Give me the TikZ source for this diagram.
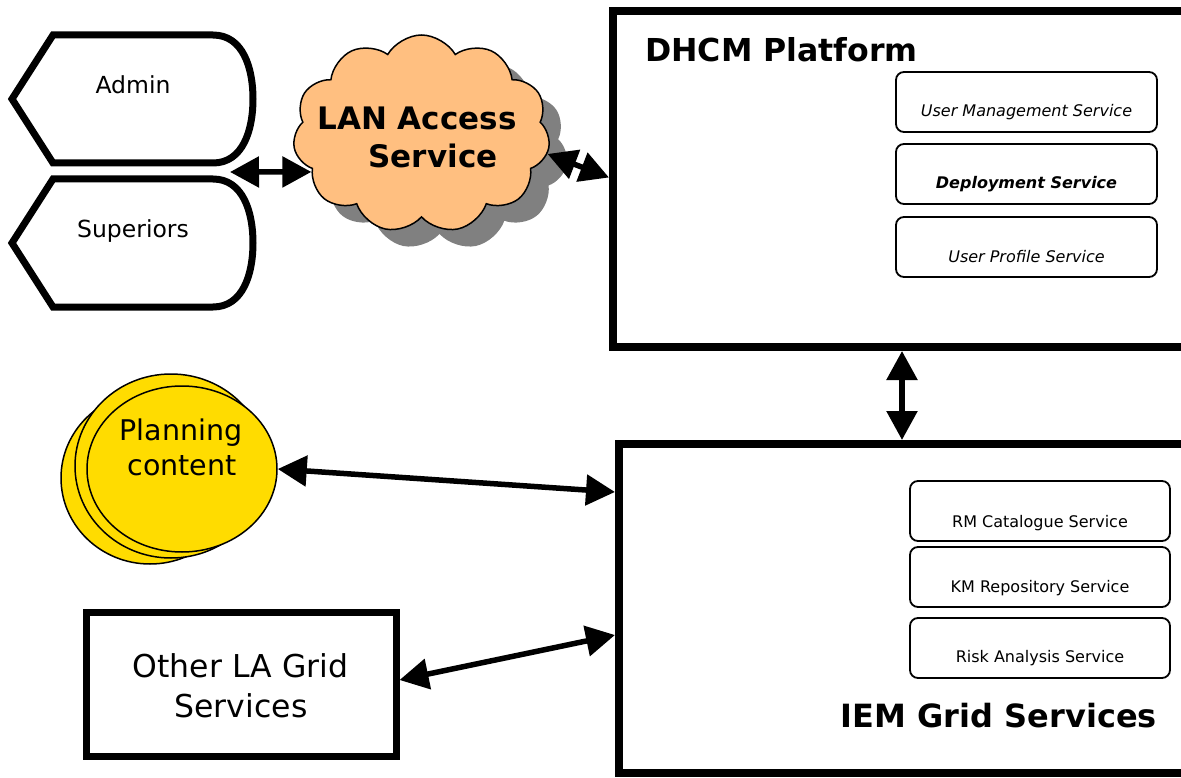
\documentclass[tikz,border=0pt]{standalone}
\usepackage{fontspec}
\setmainfont{DejaVu Sans}
\usetikzlibrary{arrows.meta,shapes.symbols,shapes.geometric}
\definecolor{cloudfill}{RGB}{255,191,128}
\definecolor{shadowgrey}{RGB}{128,128,128}
\definecolor{planyellow}{RGB}{255,220,0}

\begin{document}
\begin{tikzpicture}[x=1pt,y=-1pt,
  thickbox/.style={draw, line width=8pt, fill=white, rectangle, inner sep=0pt},
  svcbox/.style={draw, line width=1.8pt, rounded corners=8pt, rectangle, inner sep=0pt, minimum height=60pt},
  svctext/.style={anchor=base, font=\fontsize{16}{19}\selectfont, inner sep=0pt},
  bigarrow/.style={line width=5.5pt, {Triangle[length=29pt 0 0,width=30pt 0 0]}-{Triangle[length=29pt 0 0,width=30pt 0 0]}},
  actor/.style={draw, line width=7pt, fill=white, line join=miter},
  actortext/.style={anchor=base, font=\fontsize{23.5}{28}\selectfont, inner sep=0pt},
  blob/.style={draw, line width=1.5pt, fill=planyellow, ellipse, inner sep=0pt},
  lancloud/.style={cloud, cloud puffs=11, cloud puff arc=120, aspect=1.3,
    minimum width=257pt, minimum height=198pt, inner sep=0pt},
  bigtext/.style={anchor=base, inner sep=0pt},
]
\useasboundingbox (0,0) rectangle (1181,778);
\fill[white] (0,0) rectangle (1181,778);

% actors on the left
\path[actor] (53,35) -- (12,99) -- (53,163) -- (213,163)
  .. controls (243,163) and (253,130) .. (253,99)
  .. controls (253,68) and (243,35) .. (213,35) -- cycle;
\node[actortext] (adminT) at (133,93.5) {Admin};
\path[actor] (53,179) -- (12,243) -- (53,307) -- (213,307)
  .. controls (243,307) and (253,274) .. (253,243)
  .. controls (253,212) and (243,179) .. (213,179) -- cycle;
\node[actortext] (supT) at (133,237.5) {Superiors};
\coordinate (actorport) at (230,172);

% LAN access cloud with its shadow
\node[lancloud, fill=shadowgrey] (lanshadow) at (439.5,151) {};
\node[lancloud, draw, line width=1.5pt, fill=cloudfill] (lan) at (421.5,134) {};
\node[bigtext, font=\bfseries\fontsize{31}{38}\selectfont] (lanT1) at (417,130) {LAN Access};
\node[bigtext, font=\bfseries\fontsize{31}{38}\selectfont] (lanT2) at (433,168) {Service};

% DHCM platform
\node[thickbox, minimum width=582pt, minimum height=335.5pt] (dhcm) at (904,179.25) {};
\node[bigtext, anchor=base west, font=\bfseries\fontsize{31.6}{38}\selectfont] (dhcmT) at (645,62) {DHCM Platform};
\node[svcbox, minimum width=261pt] (ums) at (1026.5,102) {};
\node[svctext] (umsT) at (1026.5,117) {\itshape User Management Service};
\node[svcbox, minimum width=261pt] (dep) at (1026.5,174) {};
\node[svctext] (depT) at (1026.5,189) {\bfseries\itshape Deployment Service};
\node[svcbox, minimum width=261pt] (ups) at (1026.5,247) {};
\node[svctext] (upsT) at (1026.5,262) {\itshape User Profile Service};

% IEM grid services
\node[thickbox, minimum width=576pt, minimum height=329pt] (iem) at (907,608.5) {};
\node[svcbox, minimum width=260pt] (rm) at (1040,511) {};
\node[svctext] (rmT) at (1040,527) {RM Catalogue Service};
\node[svcbox, minimum width=260pt] (km) at (1040,577) {};
\node[svctext] (kmT) at (1040,592) {KM Repository Service};
\node[svcbox, minimum width=260pt] (risk) at (1040,648) {};
\node[svctext] (riskT) at (1040,662) {Risk Analysis Service};
\node[bigtext, anchor=base east, font=\bfseries\fontsize{32}{38}\selectfont] (iemT) at (1157,727) {IEM Grid Services};

% planning content stack
\node[blob, minimum width=178pt, minimum height=172pt] (pc1) at (150,478) {};
\node[blob, minimum width=192pt, minimum height=184pt] (pc2) at (171,466) {};
\node[blob, minimum width=190pt, minimum height=166pt] (pc3) at (182,469) {};
\node[bigtext, font=\fontsize{28.5}{34}\selectfont] (pcT1) at (181,440) {Planning};
\node[bigtext, font=\fontsize{28.5}{34}\selectfont] (pcT2) at (182,475) {content};

% other grid services
\node[thickbox, line width=7pt, minimum width=310pt, minimum height=144pt] (other) at (241,684) {};
\node[bigtext, font=\fontsize{31.5}{38}\selectfont] (otherT1) at (240.5,677) {Other LA Grid};
\node[bigtext, font=\fontsize{31.5}{38}\selectfont] (otherT2) at (241,717) {Services};

% connectors
\draw[bigarrow] (actorport) -- (lan.199);
\draw[bigarrow] (lan.-9) -- ([yshift=-170pt]dhcm.north west);
\draw[bigarrow] ([xshift=-2pt]dhcm.south) -- ([xshift=-5pt]iem.north);
\draw[bigarrow] (pc3.east) -- ([yshift=-52pt]iem.north west);
\draw[bigarrow] ([yshift=4pt]other.east) -- ([yshift=-195pt]iem.north west);
\end{tikzpicture}
\end{document}
